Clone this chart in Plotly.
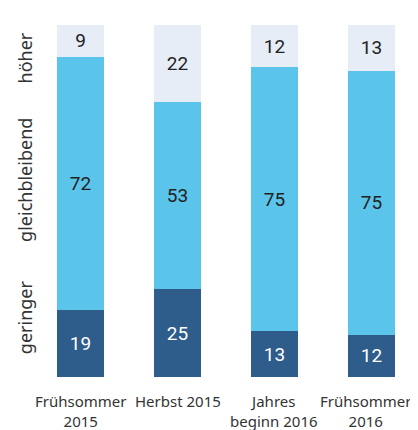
import plotly.graph_objects as go

categories = ["Frühsommer<br>2015", "Herbst 2015", "Jahres<br>beginn 2016", "Frühsommer<br>2016"]
geringer = [19, 25, 13, 12]
gleichbleibend = [72, 53, 75, 75]
hoeher = [9, 22, 12, 13]
series_names = ["geringer", "gleichbleibend", "höher"]
colors = ["#2E5C8B", "#5BC4EA", "#E7EDF6"]
text_colors = ["#FFFFFF", "#222222", "#222222"]
label_y = [17, 56, 90.5]

xs = list(range(len(categories)))
fig = go.Figure()
for name, vals, col, tcol in zip(series_names, [geringer, gleichbleibend, hoeher], colors, text_colors):
    fig.add_trace(go.Bar(
        x=xs, y=vals, name=name, marker=dict(color=col, line=dict(width=0)),
        width=0.485, text=[str(v) for v in vals], textposition="inside",
        insidetextanchor="middle", textangle=0, constraintext="none",
        textfont=dict(size=19, color=tcol, family="Roboto"),
        hoverinfo="skip",
    ))

for i, c in enumerate(categories):
    fig.add_annotation(x=i, y=0, xref="x", yref="paper", text=c, showarrow=False,
                       yanchor="top", yshift=-12,
                       xshift=-5 if i == len(categories) - 1 else 0, align="center",
                       font=dict(size=15, color="#333333", family="Noto Sans"))

for name, yv in zip(series_names, label_y):
    fig.add_annotation(x=0, y=yv, xref="paper", yref="y", text=name, showarrow=False,
                       textangle=-90, xanchor="center", yanchor="middle", xshift=-15,
                       font=dict(size=18, color="#333333", family="Noto Sans"))

fig.update_layout(
    barmode="stack", width=410, height=422,
    margin=dict(l=32, r=8, t=17, b=53),
    plot_bgcolor="white", paper_bgcolor="white", showlegend=False,
    xaxis=dict(range=[-0.4175, 3.397], visible=False),
    yaxis=dict(range=[0, 100], visible=False),
)
fig.write_html("out.html")
